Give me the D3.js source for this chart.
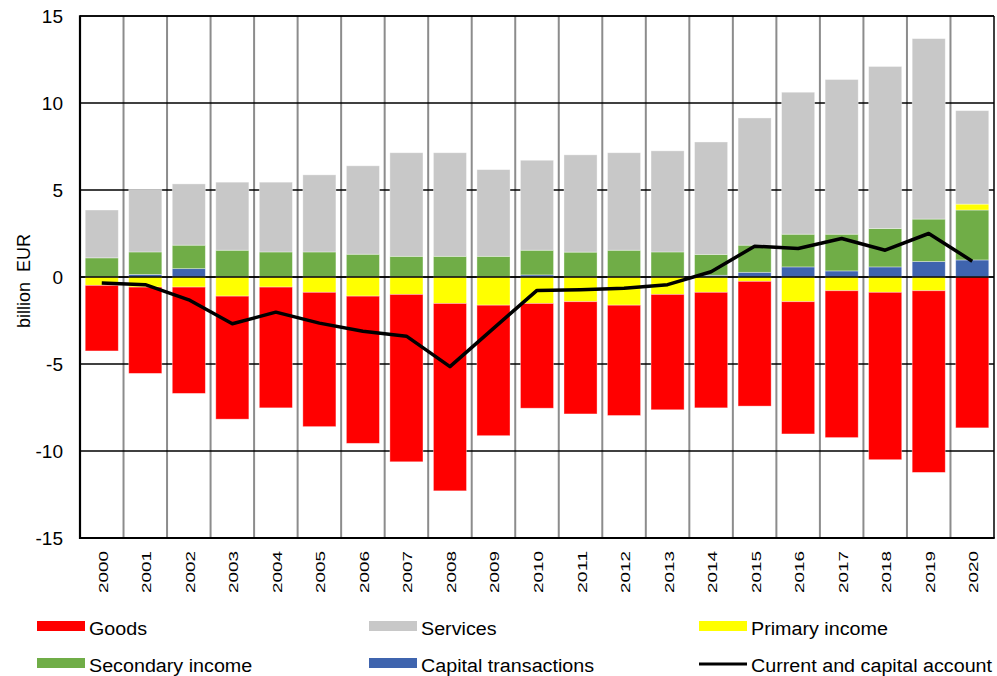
<!DOCTYPE html>
<html>
<head>
<meta charset="utf-8">
<script src="https://cdn.jsdelivr.net/npm/d3@7"></script>
<style>
  html, body { margin: 0; padding: 0; background: #fff; }
  svg text { font-family: Arial, "Liberation Sans", sans-serif; fill: #000; }
</style>
</head>
<body>
<svg id="chart" width="997" height="676"></svg>
<script>
const years = ["2000","2001","2002","2003","2004","2005","2006","2007","2008","2009","2010",
               "2011","2012","2013","2014","2015","2016","2017","2018","2019","2020"];
const goods = [-3.77,-4.96,-6.11,-7.07,-6.94,-7.72,-8.46,-9.62,-10.77,-7.5,-6.02,-6.45,-6.34,-6.63,-6.64,-7.17,-7.6,-8.44,-9.62,-10.44,-8.67];
const services = [2.75,3.6,3.52,3.91,4.01,4.43,5.08,5.95,5.95,4.98,5.17,5.59,5.6,5.81,6.46,7.31,8.16,8.89,9.31,10.37,5.37];
const primaryIncome = [-0.48,-0.58,-0.58,-1.1,-0.58,-0.88,-1.1,-1.0,-1.52,-1.62,-1.52,-1.42,-1.62,-1.0,-0.88,-0.25,-1.42,-0.79,-0.88,-0.79,0.34];
const secondaryIncome = [1.1,1.29,1.35,1.54,1.44,1.44,1.31,1.19,1.19,1.19,1.42,1.43,1.54,1.44,1.2,1.56,1.88,2.11,2.21,2.44,2.87];
const capitalTransactions = [0,0.15,0.48,0,0,0,0,0,0,0,0.12,0,0,0,0.1,0.27,0.58,0.35,0.58,0.89,0.98];
const currentCapital = [-0.35,-0.44,-1.31,-2.69,-2.02,-2.65,-3.12,-3.4,-5.15,-2.95,-0.77,-0.73,-0.65,-0.44,0.3,1.77,1.64,2.21,1.54,2.5,0.91];
const yTicks = [-15,-10,-5,0,5,10,15];

const seriesKeys = ["capital","secondary","primary","services","goods"];
const seriesColors = {goods:"#FF0000", services:"#C8C8C8", primary:"#FFFF00", secondary:"#70AD47", capital:"#3F64AE"};
const legendItems = [
  {label:"Goods", key:"goods", col:0, row:0},
  {label:"Services", key:"services", col:1, row:0},
  {label:"Primary income", key:"primary", col:2, row:0},
  {label:"Secondary income", key:"secondary", col:0, row:1},
  {label:"Capital transactions", key:"capital", col:1, row:1},
  {label:"Current and capital account", key:"line", col:2, row:1}
];

const table = years.map((y,i) => ({
  year:y, goods:goods[i], services:services[i], primary:primaryIncome[i],
  secondary:secondaryIncome[i], capital:capitalTransactions[i], total:currentCapital[i]
}));

const L = 80, R = 994, T = 16, B = 538;
const svg = d3.select("#chart");

const x = d3.scaleBand().domain(years).range([L, R]).paddingInner(0.24).paddingOuter(0.12);
const y = d3.scaleLinear().domain([-15, 15]).range([B, T]);
const step = x.step(), bw = x.bandwidth();

// vertical gray gridlines between categories
svg.append("g").selectAll("line").data(years.slice(1)).join("line")
  .attr("x1", d => x(d) - (step - bw)/2).attr("x2", d => x(d) - (step - bw)/2)
  .attr("y1", T).attr("y2", B)
  .attr("stroke", "#8c8c8c").attr("stroke-width", 2);

// horizontal gridlines
svg.append("g").selectAll("line").data(yTicks).join("line")
  .attr("x1", L).attr("x2", R)
  .attr("y1", d => y(d)).attr("y2", d => y(d))
  .attr("stroke", "#000").attr("stroke-width", 1.5);

// stacked bars
const stacked = d3.stack().keys(seriesKeys).offset(d3.stackOffsetDiverging)(table);
svg.append("g").selectAll("g").data(stacked).join("g")
  .attr("fill", d => seriesColors[d.key])
  .selectAll("rect").data(d => d).join("rect")
  .attr("x", d => x(d.data.year))
  .attr("width", bw)
  .attr("y", d => y(Math.max(d[0], d[1])))
  .attr("height", d => Math.abs(y(d[0]) - y(d[1])))
  .attr("stroke", "#ffffff").attr("stroke-opacity", 0.45).attr("stroke-width", 0.8);

// zero line
svg.append("line").attr("x1", L).attr("x2", R).attr("y1", y(0)).attr("y2", y(0))
  .attr("stroke", "#000").attr("stroke-width", 1.5);

// line series
const line = d3.line().x(d => x(d.year) + bw/2).y(d => y(d.total));
svg.append("path").datum(table).attr("d", line)
  .attr("fill", "none").attr("stroke", "#000").attr("stroke-width", 3.5)
  .attr("stroke-linejoin", "round");

// frame
svg.append("line").attr("x1", L).attr("x2", R).attr("y1", T).attr("y2", T).attr("stroke", "#000").attr("stroke-width", 1.5);
svg.append("line").attr("x1", R).attr("x2", R).attr("y1", T).attr("y2", B).attr("stroke", "#000").attr("stroke-width", 1.5);
svg.append("line").attr("x1", L).attr("x2", L).attr("y1", T - 0.75).attr("y2", B + 1).attr("stroke", "#000").attr("stroke-width", 2.2);
svg.append("line").attr("x1", L - 1).attr("x2", R + 0.75).attr("y1", B).attr("y2", B).attr("stroke", "#000").attr("stroke-width", 2.2);

// y tick labels
const yAxis = d3.axisLeft(y).tickValues(yTicks).tickSize(0).tickPadding(17).tickFormat(d => String(d));
const gy = svg.append("g").attr("transform", `translate(${L},0)`).call(yAxis);
gy.select(".domain").remove();
gy.selectAll("text").style("font-size", "19px").attr("fill", "#000")
  .style("font-family", "Arial, 'Liberation Sans', sans-serif");

// x tick labels (rotated)
svg.append("g").selectAll("text").data(years).join("text")
  .attr("transform", d => `translate(${x(d) + bw/2 + 1.5},${B + 13}) rotate(-90)`)
  .attr("text-anchor", "end").attr("dy", "0.36em")
  .attr("textLength", 42).attr("lengthAdjust", "spacingAndGlyphs")
  .style("font-size", "12.5px")
  .text(d => d);

// y axis title
svg.append("text")
  .attr("transform", `translate(30,${281}) rotate(-90)`)
  .attr("text-anchor", "middle")
  .style("font-size", "18px").style("white-space", "pre")
  .text("billion  EUR");

// legend
const colX = [37, 369, 699], rowY = [626, 663];
const lg = svg.append("g").selectAll("g").data(legendItems).join("g")
  .attr("transform", d => `translate(${colX[d.col]},${rowY[d.row]})`);
lg.filter(d => d.key !== "line").append("rect")
  .attr("x", 0).attr("y", -5).attr("width", 48).attr("height", 10)
  .attr("fill", d => seriesColors[d.key]);
lg.filter(d => d.key === "line").append("line")
  .attr("x1", 0).attr("x2", 48).attr("y1", 1).attr("y2", 1)
  .attr("stroke", "#000").attr("stroke-width", 3);
lg.append("text").attr("x", 52).attr("y", 9)
  .style("font-size", "18px").text(d => d.label)
  .each(function() {
    const len = this.getComputedTextLength();
    d3.select(this).attr("textLength", len * 1.095).attr("lengthAdjust", "spacingAndGlyphs");
  });
</script>
</body>
</html>
